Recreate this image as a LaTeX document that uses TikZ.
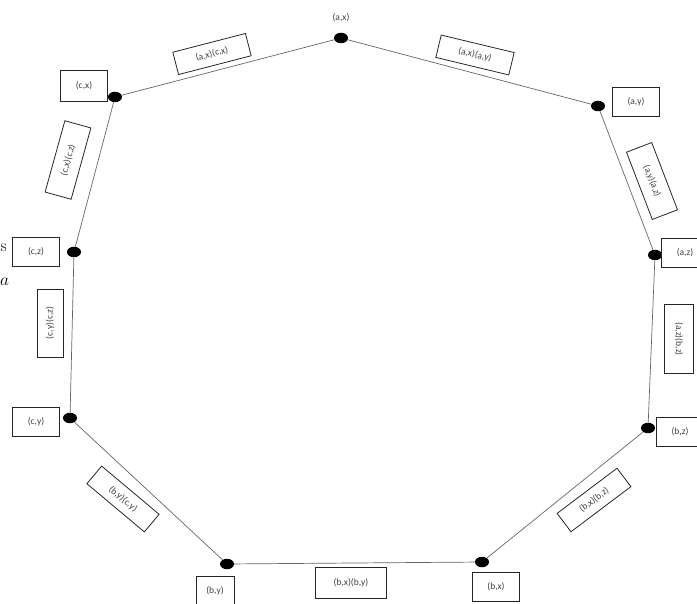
\documentclass[tikz,border=0pt]{standalone}
\usepackage{fontspec}
\newfontfamily\lab{Carlito}
\usetikzlibrary{shapes.geometric}
\begin{document}
\begin{tikzpicture}[x=1pt,y=-1pt,
  dot/.style={ellipse,fill=black,minimum width=14pt,minimum height=10.5pt,inner sep=0pt},
  edge/.style={draw=black!60,line width=0.7pt},
  vbox/.style={draw=black!85,line width=0.8pt,font=\lab\fontsize{9.5}{11}\selectfont,text=black!75,minimum width=47pt,minimum height=29pt,inner sep=0pt},
  ebox/.style={draw=black!85,line width=0.8pt,font=\lab\fontsize{9.5}{11}\selectfont,text=black!75,minimum width=75pt,minimum height=23pt,inner sep=0pt},
  plain/.style={font=\lab\fontsize{9.5}{11}\selectfont,text=black!75,inner sep=0pt}]
\useasboundingbox (0,0) rectangle (697,604);
% vertices
\node[dot] (ax) at (341,38) {};
\node[dot] (ay) at (598,106) {};
\node[dot] (az) at (655,255) {};
\node[dot] (bz) at (648,428) {};
\node[dot] (bx) at (482,562) {};
\node[dot] (by) at (227,564) {};
\node[dot] (cy) at (70,418) {};
\node[dot] (cz) at (74,252) {};
\node[dot] (cx) at (115,97) {};
% edges
\draw[edge] (ax) -- (ay);
\draw[edge] (ay) -- (az);
\draw[edge] (az) -- (bz);
\draw[edge] (bz) -- (bx);
\draw[edge] (bx) -- (by);
\draw[edge] (by) -- (cy);
\draw[edge] (cy) -- (cz);
\draw[edge] (cz) -- (cx);
\draw[edge] (cx) -- (ax);
% vertex labels
\node[plain] (lax) at (341,18) {(a,x)};
\node[vbox] (lay) at (636,102) {(a,y)};
\node[vbox] (laz) at (685,253) {(a,z)};
\node[vbox] (lbz) at (680,432) {(b,z)};
\node[vbox] (lbx) at (496,587) {(b,x)};
\node[vbox,minimum width=38pt] (lby) at (215,591) {(b,y)};
\node[vbox] (lcy) at (36,422) {(c,y)};
\node[vbox] (lcz) at (36,252) {(c,z)};
\node[vbox,minimum height=31pt] (lcx) at (84,86) {(c,x)};
% edge labels
\node[ebox,rotate=14.5] (eaxcx) at (212,54) {(a,x)(c,x)};
\node[ebox,rotate=-13.5] (eaxay) at (475,55) {(a,x)(a,y)};
\node[ebox,rotate=-69,minimum width=72pt,minimum height=27pt] (eayaz) at (652,181) {(a,y)(a,z)};
\node[ebox,rotate=-90,minimum width=69pt,minimum height=29pt] (eazbz) at (679,339) {(a,z)(b,z)};
\node[ebox,rotate=37] (ebxbz) at (594,500) {(b,x)(b,z)};
\node[ebox,minimum width=71pt,minimum height=31pt] (ebxby) at (351,583) {(b,x)(b,y)};
\node[ebox,rotate=-40] (ebycy) at (123,499) {(b,y)(c,y)};
\node[ebox,rotate=90,minimum width=68pt,minimum height=26pt] (ecycz) at (50,323) {(c,y)(c,z)};
\node[ebox,rotate=74.5,minimum width=74pt,minimum height=27pt] (ecxcz) at (68,160) {(c,x)(c,z)};
% stray page text
\node[inner sep=0pt,font=\fontsize{17}{20}\selectfont,anchor=base west] (ss) at (0.5,252) {s};
\node[inner sep=0pt,font=\fontsize{17}{20}\selectfont,anchor=base west] (sa) at (0,286) {$a$};
\end{tikzpicture}
\end{document}
